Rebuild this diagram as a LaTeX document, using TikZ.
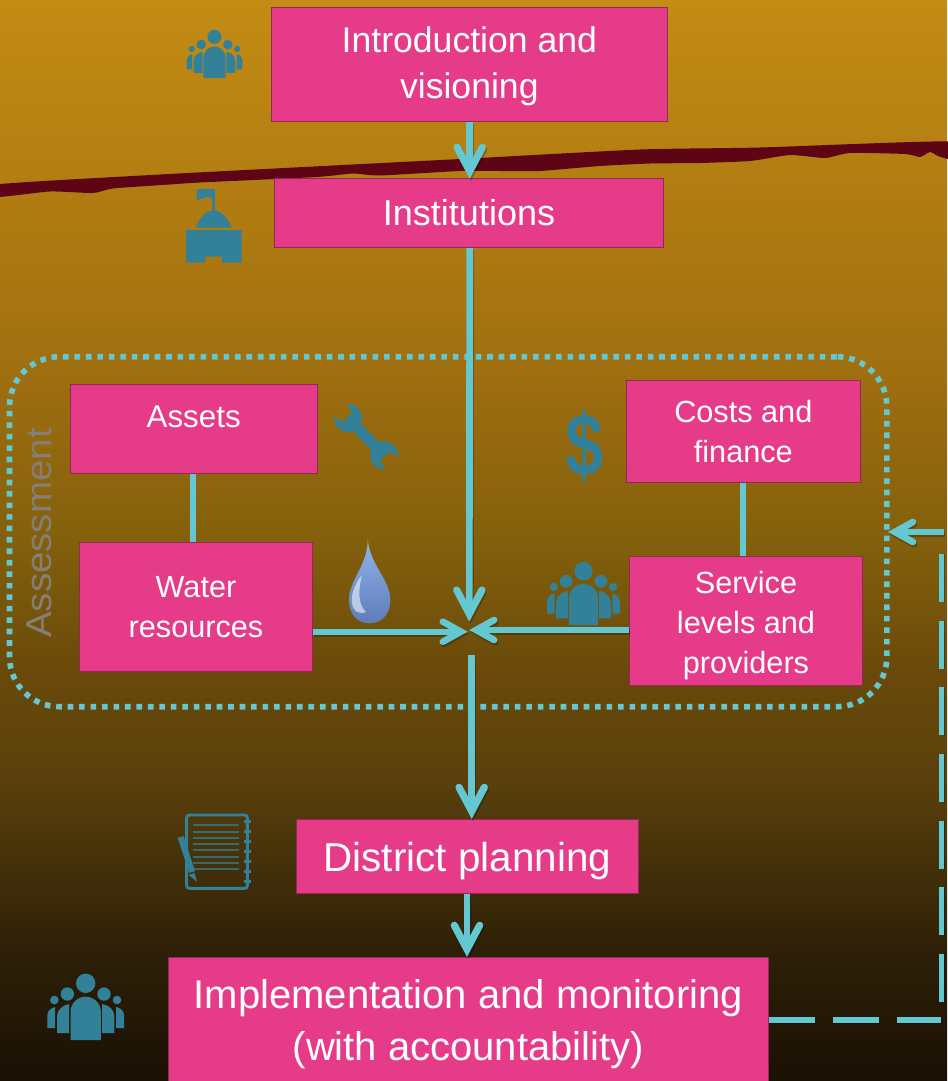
\documentclass[tikz,border=0pt]{standalone}
\usepackage{fontspec}
\setmainfont{Liberation Sans}
\usetikzlibrary{arrows.meta,calc}
\definecolor{c0}{HTML}{C48C14}\definecolor{c1}{HTML}{A06F10}\definecolor{c2}{HTML}{83600C}\definecolor{c3}{HTML}{6A4A0A}\definecolor{c4}{HTML}{5A400C}\definecolor{c5}{HTML}{2E2007}\definecolor{c6}{HTML}{1A1004}
\definecolor{pinkbox}{HTML}{E53B89}\definecolor{cyanline}{HTML}{63C8D2}\definecolor{tealicon}{HTML}{338199}\definecolor{scar}{HTML}{5E0515}
\definecolor{droptop}{HTML}{8FB4EE}\definecolor{dropbot}{HTML}{5F7DB8}\definecolor{labelgrey}{HTML}{857F78}
\pgfdeclareverticalshading{bgshade}{100bp}{color(0bp)=(c6);color(25bp)=(c6);color(31bp)=(c5);color(39bp)=(c4);color(44bp)=(c3);color(50bp)=(c2);color(58bp)=(c1);color(75bp)=(c0);color(100bp)=(c0)}
\tikzset{
 x=0.75pt,y=-0.75pt,
 box/.style={fill=pinkbox,draw=pinkbox!65!black,line width=0.5pt,text=white,align=center,inner sep=0pt,anchor=north west},
 flow/.style={draw=cyanline,line width=5pt,preaction={draw=black,opacity=.25,line width=5pt,transform canvas={xshift=.8pt,yshift=-1.6pt}},-{Straight Barb[length=18pt,width=19pt,line width=5.4pt,line cap=round,line join=miter]}},
 flowsmall/.style={draw=cyanline,line width=4.3pt,preaction={draw=black,opacity=.25,line width=4.3pt,transform canvas={xshift=.8pt,yshift=-1.6pt}},-{Straight Barb[length=13.5pt,width=15pt,line width=5pt,line cap=round,line join=miter]}},
 link/.style={draw=cyanline,line width=4.2pt},
 feedh/.style={draw=cyanline,line width=4pt,dash pattern=on 34.5pt off 13.5pt,preaction={draw=black,opacity=.25,line width=4pt,dash pattern=on 34.5pt off 13.5pt,transform canvas={yshift=-1.2pt}}},
 feedv/.style={draw=cyanline,line width=4pt,dash pattern=on 36pt off 14pt,preaction={draw=black,opacity=.25,line width=4pt,dash pattern=on 36pt off 14pt,transform canvas={xshift=.8pt}}},
 person/.style={fill=tealicon},
 people/.pic={
  \fill[person] (0,-56.7) circle (9.7);
  \fill[person] (-18.3,-46) circle (6.7) (18.3,-46) circle (6.7) (-31.3,-40) circle (4.3) (31.3,-40) circle (4.3);
  \fill[person] (-15.2,0) -- (-15.2,-28.1) arc[start angle=180,end angle=360,radius=15.2] -- (15.2,0) -- cycle;
  \fill[person] (-16.5,-36) .. controls (-23,-35) and (-28.7,-30) .. (-28.7,-24) -- (-28.7,-7) -- (-16.5,-7) -- cycle;
  \fill[person] (16.5,-36) .. controls (23,-35) and (28.7,-30) .. (28.7,-24) -- (28.7,-7) -- (16.5,-7) -- cycle;
  \fill[person] (-30.5,-33) .. controls (-35,-32) and (-38.3,-29) .. (-38.3,-25) -- (-38.3,-12) -- (-30.5,-12) -- cycle;
  \fill[person] (30.5,-33) .. controls (35,-32) and (38.3,-29) .. (38.3,-25) -- (38.3,-12) -- (30.5,-12) -- cycle;
 },
 wrench/.pic={
  \fill[person] (-10.7,9) arc[start angle=140,end angle=23,radius=14] -- (39.1,5.5) arc[start angle=157,end angle=40,radius=14] -- (53,6.5) -- (53,-6.5) -- (62.7,-9) arc[start angle=-40,end angle=-157,radius=14] -- (12.9,-5.5) arc[start angle=-23,end angle=-140,radius=14] -- (-1,-6.5) -- (-1,6.5) -- cycle;
 }
}
\begin{document}
\begin{tikzpicture}
\useasboundingbox (0,0) rectangle (947,1081);
\shade[shading=bgshade] (0,0) rectangle (947,1081);
% scar
\fill[scar] plot[smooth cycle,tension=.35] coordinates {(-4,184.5) (160,174.5) (333,165.5) (470,158.5) (640,149.5) (760,147.5) (951,141.5) (951,159) (938,156) (930,152) (920,157) (905,154) (850,153) (825,158) (790,155) (750,161) (700,163) (650,163.5) (600,166) (540,171) (500,171) (460,171) (380,175.5) (353,173.5) (317,177) (200,182.5) (170,184.5) (113,188.5) (93,193) (50,191.5) (-4,197)};
% boxes
\node[box,minimum width=297pt,minimum height=85.5pt,font=\fontsize{26.7}{35}\selectfont] (intro) at (271,7) {\rule{0pt}{22.5pt}Introduction and\\visioning};
\node[box,minimum width=292pt,minimum height=52pt,font=\fontsize{27}{32}\selectfont] (inst) at (274,178) {Institutions};
\node[box,minimum width=185pt,minimum height=67pt,font=\fontsize{23.5}{30}\selectfont,text height=17pt,text depth=19pt] (assets) at (70,384) {Assets};
\node[box,minimum width=175pt,minimum height=97pt,font=\fontsize{23}{30}\selectfont] (water) at (79,542) {Water\\resources};
\node[box,minimum width=175.5pt,minimum height=76.5pt,font=\fontsize{23}{29.6}\selectfont] (costs) at (626,380) {Costs and\\finance};
\node[box,minimum width=175pt,minimum height=97pt,font=\fontsize{23}{30}\selectfont] (service) at (629,556) {\rule{0pt}{23.5pt}Service\\levels and\\providers};
\node[box,minimum width=256.5pt,minimum height=55.5pt,font=\fontsize{30.3}{40}\selectfont,text height=24pt,text depth=0.8pt] (district) at (296,819) {District planning};
\node[box,minimum width=450pt,minimum height=100pt,font=\fontsize{30}{39}\selectfont] (impl) at (168,957) {Implementation and monitoring\\(with accountability)};
% assessment frame
\node[draw=cyanline,line width=4.2pt,dash pattern=on 4.2pt off 4.4pt,rounded corners=37.5pt,minimum width=658pt,minimum height=262.5pt,anchor=north west,inner sep=0pt] (frame) at (6.7,353.9) {};
\node[rotate=90,text=labelgrey,font=\fontsize{27}{30}\selectfont] (assesslabel) at (39.5,533) {\scalebox{1.07}[1]{Assessment}};
% connectors
\coordinate (hubtop) at (469.3,621.7);
\coordinate (hubleft) at (467.7,631.7);
\coordinate (hubright) at (469.3,630);
\coordinate (hubdown) at (471.7,655);
\coordinate (fb0) at (941,1020);
\coordinate (fb1) at (941.3,1002);
\coordinate (fb2) at (941.3,553);
\coordinate (fb3) at (888,532);
\coordinate (fb4) at (944,532);
\draw[flow] (intro.south -| 469.7,0) -- (469.7,179);
\draw[flow] (inst.south -| 469.7,0) -- (hubtop);
\draw[link] (assets.south -| 193,0) -- (water.north -| 193,0);
\draw[link] (costs.south -| 743,0) -- (service.north -| 743,0);
\draw[flowsmall] (water.east |- hubleft) -- (hubleft);
\draw[flowsmall] (service.west |- hubright) -- (hubright);
\draw[flow] (hubdown) -- (district.north -| 471.7,0);
\draw[flow] (district.south -| 467,0) -- (impl.north -| 467,0);
\draw[feedh] (impl.east |- fb0) -- (fb0);
\draw[feedv] (fb1) -- (fb2);
\draw[flowsmall] (fb4) -- (fb3);
% icons
\pic[scale=.727] at (214.5,78) {people};
\pic[scale=.95] at (583.5,625) {people};
\pic at (85.7,1040) {people};
% building
\fill[tealicon] (186,230) -- (241.7,230) -- (241.7,262.7) -- (222,262.7) -- (222,256.5) -- (205,256.5) -- (205,262.7) -- (186,262.7) -- cycle;
\fill[person] (195.7,227.7) .. controls (199,219) and (205,210.5) .. (213.5,210.5) .. controls (222,210.5) and (228,219) .. (231.7,227.7) -- cycle;
\fill[person] (212.3,197) rectangle (214.7,211);
\fill[person] (196.7,189) -- (215,189) -- (215,200) -- (208,197) -- (196.7,200) -- cycle;
% wrench
\pic[rotate=-46] at (348,418) {wrench};
% dollar
\node[text=tealicon,inner sep=0pt,font=\bfseries\fontsize{66}{66}\selectfont] (dollar) at (585,446) {\scalebox{.78}[1]{\$}};
% drop
\shade[top color=droptop,bottom color=dropbot] (367.7,539.3) .. controls (368,565) and (349,580) .. (349,600) .. controls (349,615) and (358,623.3) .. (369.5,623.3) .. controls (381,623.3) and (390.3,615) .. (390.3,600) .. controls (390.3,580) and (370,565) .. (367.7,539.3) -- cycle;
\fill[white,opacity=.55] (362,575) .. controls (354,585) and (351,595) .. (352,603) .. controls (353,611) and (358,615) .. (366,612) .. controls (358,605) and (358,590) .. (362,575) -- cycle;
% notebook
\draw[tealicon,line width=2.2pt,rounded corners=2pt] (186.7,815) rectangle (247.3,888.3);
\foreach \yy in {825,831.7,837.7,844.3,850.3,856.7,863.3,869.3}{\draw[tealicon,opacity=.7,line width=1.4pt] (192.7,\yy) -- (239.3,\yy);}
\foreach \yy in {821.7,831.7,841.3,851,861,871,881}{\fill[tealicon] (244,\yy-1.5) rectangle (251,\yy+1.5);}
\draw[tealicon,line width=4.6pt] (180.7,837) -- (192,872);
\fill[tealicon] (188.5,875) -- (194.5,873) -- (197,881.7) -- cycle;
\end{tikzpicture}
\end{document}
